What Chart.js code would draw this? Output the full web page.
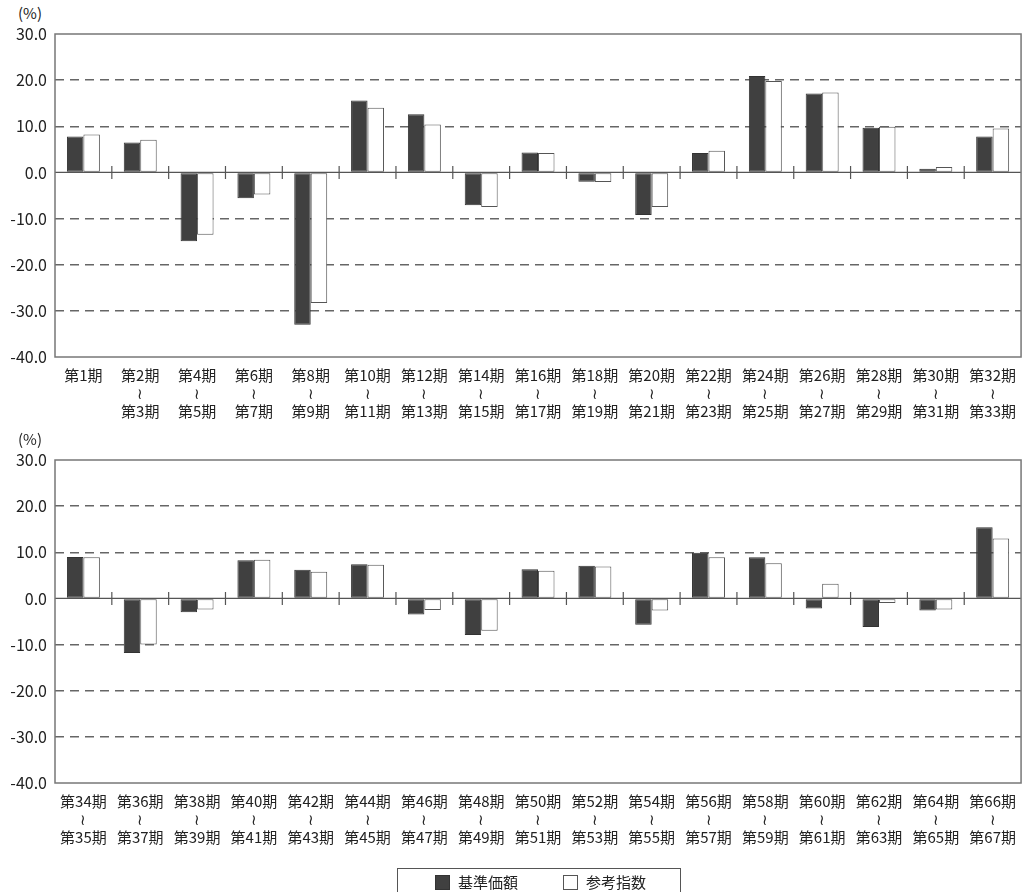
<!DOCTYPE html>
<html lang="ja">
<head>
<meta charset="utf-8">
<script src="https://cdn.jsdelivr.net/npm/chart.js@4.4.1/dist/chart.umd.min.js"></script>
<style>
  html, body { margin: 0; padding: 0; background: #fff; }
  body { width: 1025px; height: 892px; position: relative; overflow: hidden;
         font-family: "Noto Sans CJK JP", "Noto Sans", sans-serif; color: #222; }
  .panel { position: absolute; left: 0; width: 1025px; height: 450px; }
  .unit { position: absolute; left: 18px; font-size: 15px; color: #222; }
  .legend { position: absolute; left: 397px; top: 868px; width: 284px; height: 30px;
            border: 1px solid #555; box-sizing: border-box; font-size: 15px; }
  .legend span.sw { position: absolute; top: 6px; width: 15px; height: 15px; box-sizing: border-box; }
  .legend span.tx { position: absolute; top: 2px; }
</style>
</head>
<body>
<div class="unit" style="top:2px">(%)</div>
<div class="panel" style="top:0"><canvas id="c1"></canvas></div>
<div class="unit" style="top:428px">(%)</div>
<div class="panel" style="top:426px"><canvas id="c2"></canvas></div>
<div class="legend">
  <span class="sw" style="left:37px;background:#404040;border:1px solid #333"></span>
  <span class="tx" style="left:60px">基準価額</span>
  <span class="sw" style="left:165px;background:#fff;border:1px solid #555"></span>
  <span class="tx" style="left:188px">参考指数</span>
</div>
<script>
// 決算期ラベル(上段・下段)
const periodsTop = [
  ['第1期'],
  ['第2期', '≀', '第3期'], ['第4期', '≀', '第5期'], ['第6期', '≀', '第7期'],
  ['第8期', '≀', '第9期'], ['第10期', '≀', '第11期'], ['第12期', '≀', '第13期'],
  ['第14期', '≀', '第15期'], ['第16期', '≀', '第17期'], ['第18期', '≀', '第19期'],
  ['第20期', '≀', '第21期'], ['第22期', '≀', '第23期'], ['第24期', '≀', '第25期'],
  ['第26期', '≀', '第27期'], ['第28期', '≀', '第29期'], ['第30期', '≀', '第31期'],
  ['第32期', '≀', '第33期']
];
const periodsBottom = [
  ['第34期', '≀', '第35期'], ['第36期', '≀', '第37期'], ['第38期', '≀', '第39期'],
  ['第40期', '≀', '第41期'], ['第42期', '≀', '第43期'], ['第44期', '≀', '第45期'],
  ['第46期', '≀', '第47期'], ['第48期', '≀', '第49期'], ['第50期', '≀', '第51期'],
  ['第52期', '≀', '第53期'], ['第54期', '≀', '第55期'], ['第56期', '≀', '第57期'],
  ['第58期', '≀', '第59期'], ['第60期', '≀', '第61期'], ['第62期', '≀', '第63期'],
  ['第64期', '≀', '第65期'], ['第66期', '≀', '第67期']
];

// 騰落率(%)
const navTop   = [7.8, 6.5, -14.9, -5.6, -33.0, 15.6, 12.6, -7.1, 4.3, -2.0, -9.2, 4.2, 20.9, 17.1, 9.7, 0.8, 7.8];
const indexTop = [8.2, 7.1, -13.5, -4.8, -28.3, 14.0, 10.4, -7.5, 4.2, -2.1, -7.5, 4.7, 19.8, 17.3, 9.9, 1.2, 9.5];
const navBottom   = [9.0, -11.8, -3.0, 8.3, 6.2, 7.4, -3.5, -7.9, 6.3, 7.1, -5.7, 9.9, 8.9, -2.2, -6.2, -2.6, 15.4];
const indexBottom = [8.9, -10.0, -2.4, 8.4, 5.8, 7.3, -2.5, -7.0, 6.0, 6.9, -2.6, 8.9, 7.6, 3.2, -1.0, -2.4, 13.0];

// 縦軸目盛
const yTicks = [30, 20, 10, 0, -10, -20, -30, -40];
const yMin = -40, yMax = 30, yStep = 10;

const FONT = '"Noto Sans CJK JP", "Noto Sans", sans-serif';

// 外枠・ゼロ線・区切りの目盛を描く
const framePlugin = {
  id: 'frame',
  beforeDatasetsDraw(chart) {
    const { ctx, chartArea: a, scales: { x, y } } = chart;
    const y0 = y.getPixelForValue(0);
    ctx.save();
    ctx.strokeStyle = '#555';
    ctx.lineWidth = 1.2;
    ctx.beginPath();
    ctx.moveTo(a.left, y0);
    ctx.lineTo(a.right, y0);
    const n = chart.data.labels.length;
    for (let i = 1; i < n; i++) {
      const bx = (x.getPixelForValue(i - 1) + x.getPixelForValue(i)) / 2;
      ctx.moveTo(bx, y0 - 6.5);
      ctx.lineTo(bx, y0 + 6.5);
    }
    ctx.stroke();
    ctx.restore();
  },
  afterDraw(chart) {
    const { ctx, chartArea: a } = chart;
    ctx.save();
    ctx.strokeStyle = '#777';
    ctx.lineWidth = 1.5;
    ctx.strokeRect(a.left, a.top, a.right - a.left, a.bottom - a.top);
    ctx.restore();
  }
};

function makeChart(id, labels, nav, idx) {
  return new Chart(document.getElementById(id), {
    type: 'bar',
    data: {
      labels: labels,
      datasets: [
        { label: '基準価額', data: nav, backgroundColor: '#404040', borderColor: '#333',
          borderWidth: 1, borderSkipped: false },
        { label: '参考指数', data: idx, backgroundColor: '#ffffff', borderColor: '#555',
          borderWidth: 1, borderSkipped: false }
      ]
    },
    options: {
      responsive: true,
      maintainAspectRatio: false,
      animation: false,
      layout: { padding: { top: 34, right: 1, left: 0, bottom: 0 } },
      datasets: { bar: { categoryPercentage: 0.58, barPercentage: 1.0 } },
      plugins: { legend: { display: false }, tooltip: { enabled: false } },
      scales: {
        x: {
          grid: { display: false, drawTicks: false },
          border: { display: false },
          ticks: {
            autoSkip: false, maxRotation: 0, padding: 9, color: '#222',
            font: { family: FONT, size: 15, lineHeight: 1.2 }
          },
          afterFit(scale) { scale.height = 93; }
        },
        y: {
          min: yMin, max: yMax,
          afterBuildTicks(scale) { scale.ticks = yTicks.map(v => ({ value: v })); },
          afterFit(scale) { scale.width = 55; },
          border: { display: false, dash: [9, 6] },
          grid: {
            drawTicks: false, lineWidth: 1.5,
            color: c => (c.tick && (c.tick.value === 0 || c.tick.value === yMax || c.tick.value === yMin)) ? 'rgba(0,0,0,0)' : '#666'
          },
          ticks: {
            stepSize: yStep, padding: 8, color: '#222',
            font: { family: FONT, size: 16 },
            callback: v => Number(v).toFixed(1)
          }
        }
      }
    },
    plugins: [framePlugin]
  });
}

makeChart('c1', periodsTop, navTop, indexTop);
makeChart('c2', periodsBottom, navBottom, indexBottom);
</script>
</body>
</html>
